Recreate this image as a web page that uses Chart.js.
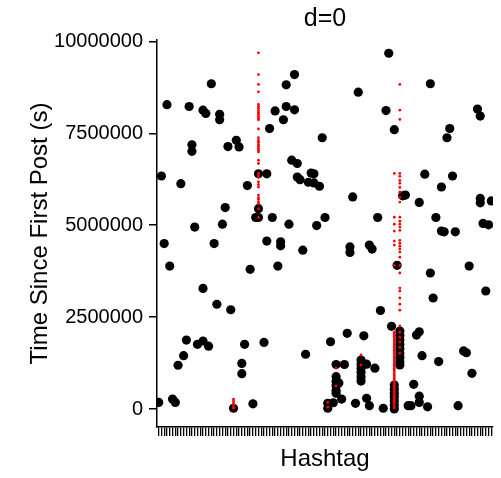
<!DOCTYPE html>
<html>
<head>
<meta charset="utf-8">
<script src="https://cdn.jsdelivr.net/npm/chart.js@4.4.0/dist/chart.umd.min.js"></script>
<style>
  html, body { margin: 0; padding: 0; background: #fff; }
  #wrap { width: 501px; height: 478px; position: relative; }
</style>
</head>
<body>
<div id="wrap"><canvas id="chart"></canvas></div>
<script>
// number of hashtags on the x axis
const hashtagCount = 121;
const yTickValues = [0, 2500000, 5000000, 7500000, 10000000];

// black points: hashtag index and time since first post (s)
const blackTag = [
  20, 50, 47, 4, 12, 17, 18, 23, 23, 43, 47, 50, 46, 41, 60, 13, 13, 26, 29, 30,
  49, 51, 2, 9, 37, 40, 51, 52, 56, 57, 55, 57, 59, 33, 25, 37, 36, 37, 42, 14,
  24, 48, 58, 61, 84, 99, 73, 83, 116, 117, 86, 106, 105, 97, 107, 103, 71, 89, 90, 95,
  117, 117, 121, 80, 101, 103, 104, 108, 118, 120, 3, 21, 40, 45, 45, 53, 5, 34, 44, 17,
  22, 27, 11, 15, 17, 19, 32, 39, 10, 8, 31, 31, 54, 1, 6, 7, 28, 35, 62, 62,
  64, 70, 70, 77, 78, 87, 99, 113, 100, 119, 81, 85,
  88, 88, 88, 88, 88, 88, 88, 88, 88,
  94, 95, 69, 75, 63, 96, 102, 111, 112, 114, 65, 68,
  74, 74, 74, 74, 74, 74, 76, 79,
  65, 65, 65, 65, 65, 66, 93,
  86, 86, 86, 86, 86, 86, 86,
  67, 72, 76, 77, 82, 91, 92, 95, 95, 98, 109
];
const blackTime = [
  8850000, 9100000, 8820000, 8280000, 8230000, 8130000, 8040000, 8020000, 7870000, 8110000,
  8230000, 8140000, 7870000, 7630000, 7380000, 7190000, 7010000, 7140000, 7310000, 7130000,
  6770000, 6680000, 6340000, 6130000, 6400000, 6400000, 6310000, 6240000, 6420000, 6400000,
  6170000, 6150000, 6060000, 6080000, 5480000, 5450000, 5210000, 5210000, 5210000, 4950000,
  5030000, 5030000, 4990000, 5210000, 9680000, 8850000, 8620000, 8120000, 8160000, 7970000,
  7600000, 7630000, 7380000, 6390000, 6340000, 6040000, 5770000, 5800000, 5820000, 5620000,
  5730000, 5610000, 5660000, 5210000, 5210000, 4840000, 4820000, 4820000, 5050000, 5010000,
  4500000, 4500000, 4570000, 4550000, 4440000, 4320000, 3890000, 3800000, 3890000, 3280000,
  2850000, 2700000, 1875000, 1760000, 1850000, 1710000, 1760000, 1810000, 1450000, 1190000,
  1240000, 960000, 1490000, 180000, 270000, 180000, 20000, 140000, 155000, 20000,
  170000, 4410000, 4260000, 4460000, 4350000, 3910000, 3700000, 3890000, 3020000, 3210000,
  2680000, 2250000,
  2120000, 2000000, 1880000, 1760000, 1640000, 1520000, 1400000, 1280000, 1200000,
  2010000, 2100000, 2060000, 1990000, 1830000, 1450000, 1290000, 1580000, 1530000, 970000,
  1210000, 1210000,
  1330000, 1220000, 1110000, 1000000, 870000, 760000, 1220000, 1110000,
  880000, 750000, 630000, 500000, 430000, 710000, 670000,
  650000, 540000, 430000, 330000, 220000, 110000, 0,
  270000, 155000, 290000, 90000, 20000, 90000, 90000, 350000, 180000, 60000, 90000
];

// red points: hashtag index and time since first post (s)
const redTag = [
  37, 37, 37, 37, 37, 37, 37, 37, 37, 37, 37, 37, 37, 37, 37, 37, 37, 37, 37, 37,
  37, 37, 37, 37, 37, 37, 37, 37, 37, 37, 37, 37, 37, 37, 37, 37, 37,
  88, 88, 88, 88, 88, 88, 88, 88, 88, 88, 88, 88, 88, 88, 88, 88, 88, 88, 88, 88,
  88, 88, 88, 88, 88, 88, 88, 88, 88, 88, 88, 88, 88, 88, 88,
  86, 86, 86, 86, 86, 86, 86,
  86, 86, 86, 86, 86, 86, 86, 86, 86, 86, 86, 86, 86, 86, 86, 86, 86, 86, 86, 86,
  86, 86, 86, 86, 86, 86, 86, 86, 86, 86, 86, 86, 86, 86, 86, 86, 86, 86, 86,
  28, 28, 28, 28, 28, 28,
  62, 62, 65, 65, 74, 74
];
const redTime = [
  9690000, 9100000, 8830000, 8630000, 8290000, 8230000, 8180000, 8120000, 8070000, 8020000,
  7960000, 7910000, 7870000, 7620000, 7380000, 7310000, 7260000, 7200000, 7150000, 7090000,
  7040000, 6990000, 6770000, 6680000, 6420000, 6370000, 6310000, 6180000, 6110000, 6040000,
  5820000, 5750000, 5700000, 5630000, 5590000, 5450000, 5210000,
  8830000, 8130000, 7880000, 6410000, 6330000, 6220000, 6140000, 6030000, 5900000, 5760000,
  5630000, 5220000, 5110000, 5030000, 4950000, 4860000, 4590000, 4510000, 4430000, 4350000,
  4270000, 4130000, 3910000, 3700000, 3290000, 3210000, 3020000, 2850000, 2690000, 2260000,
  2090000, 1960000, 1820000, 1680000, 1520000,
  6410000, 5220000, 5030000, 4840000, 4570000, 4460000, 3910000,
  2090000, 2040000, 1980000, 1930000, 1880000, 1820000, 1770000, 1710000, 1660000, 1600000,
  1550000, 1500000, 1440000, 1390000, 1330000, 1280000, 1220000, 1170000, 1110000, 1060000,
  1010000, 950000, 900000, 840000, 790000, 730000, 680000, 630000, 570000, 520000,
  460000, 410000, 350000, 300000, 240000, 190000, 140000, 80000, 30000,
  270000, 220000, 160000, 110000, 50000, 20000,
  180000, 50000, 1110000, 630000, 1470000, 1200000
];

const toPoints = (tags, times) => tags.map((t, i) => ({ x: t, y: times[i] }));

Chart.defaults.font.family = '"Liberation Sans", Arial, Helvetica, sans-serif';
Chart.defaults.color = '#000';

const ctx = document.getElementById('chart').getContext('2d');
new Chart(ctx, {
  type: 'scatter',
  data: {
    datasets: [
      {
        label: 'red',
        data: toPoints(redTag, redTime),
        order: 0,
        pointRadius: 1.4,
        pointBorderWidth: 0,
        backgroundColor: '#ff0000',
        borderColor: '#ff0000'
      },
      {
        label: 'black',
        data: toPoints(blackTag, blackTime),
        order: 1,
        pointRadius: 4.6,
        pointBorderWidth: 0,
        backgroundColor: '#000',
        borderColor: '#000'
      }
    ]
  },
  options: {
    responsive: true,
    maintainAspectRatio: false,
    animation: false,
    layout: { padding: { top: 0, right: 8, bottom: 0, left: 0 } },
    plugins: {
      legend: { display: false },
      tooltip: { enabled: false },
      title: {
        display: true,
        text: 'd=0',
        fullSize: false,
        color: '#000',
        font: { size: 25, weight: 'normal' },
        padding: { top: 4, bottom: 6 }
      }
    },
    scales: {
      x: {
        type: 'linear',
        min: 0.4,
        max: hashtagCount + 0.6,
        afterBuildTicks: (scale) => {
          const ticks = [];
          for (let i = 1; i <= hashtagCount; i++) ticks.push({ value: i });
          scale.ticks = ticks;
        },
        afterFit: (scale) => { scale.height = 51; },
        grid: { drawOnChartArea: false, drawTicks: true, tickLength: 9, color: '#000', lineWidth: 1.3 },
        border: { display: true, color: '#000', width: 1.5 },
        ticks: { display: false },
        title: {
          display: true,
          text: 'Hashtag',
          color: '#000',
          font: { size: 24 },
          padding: { top: 0, bottom: 4 }
        }
      },
      y: {
        type: 'linear',
        min: -490000,
        max: 10040000,
        afterBuildTicks: (scale) => {
          scale.ticks = yTickValues.map(v => ({ value: v }));
        },
        afterFit: (scale) => { scale.width = 157; },
        grid: { drawOnChartArea: false, drawTicks: true, tickLength: 8, color: '#000', lineWidth: 1.5 },
        border: { display: true, color: '#000', width: 1.5 },
        ticks: {
          color: '#000',
          padding: 6,
          font: { size: 20 },
          callback: (value) => String(value)
        },
        title: {
          display: true,
          text: 'Time Since First Post (s)',
          color: '#000',
          font: { size: 24 },
          padding: { top: 26, bottom: 0 }
        }
      }
    }
  }
});
</script>
</body>
</html>
